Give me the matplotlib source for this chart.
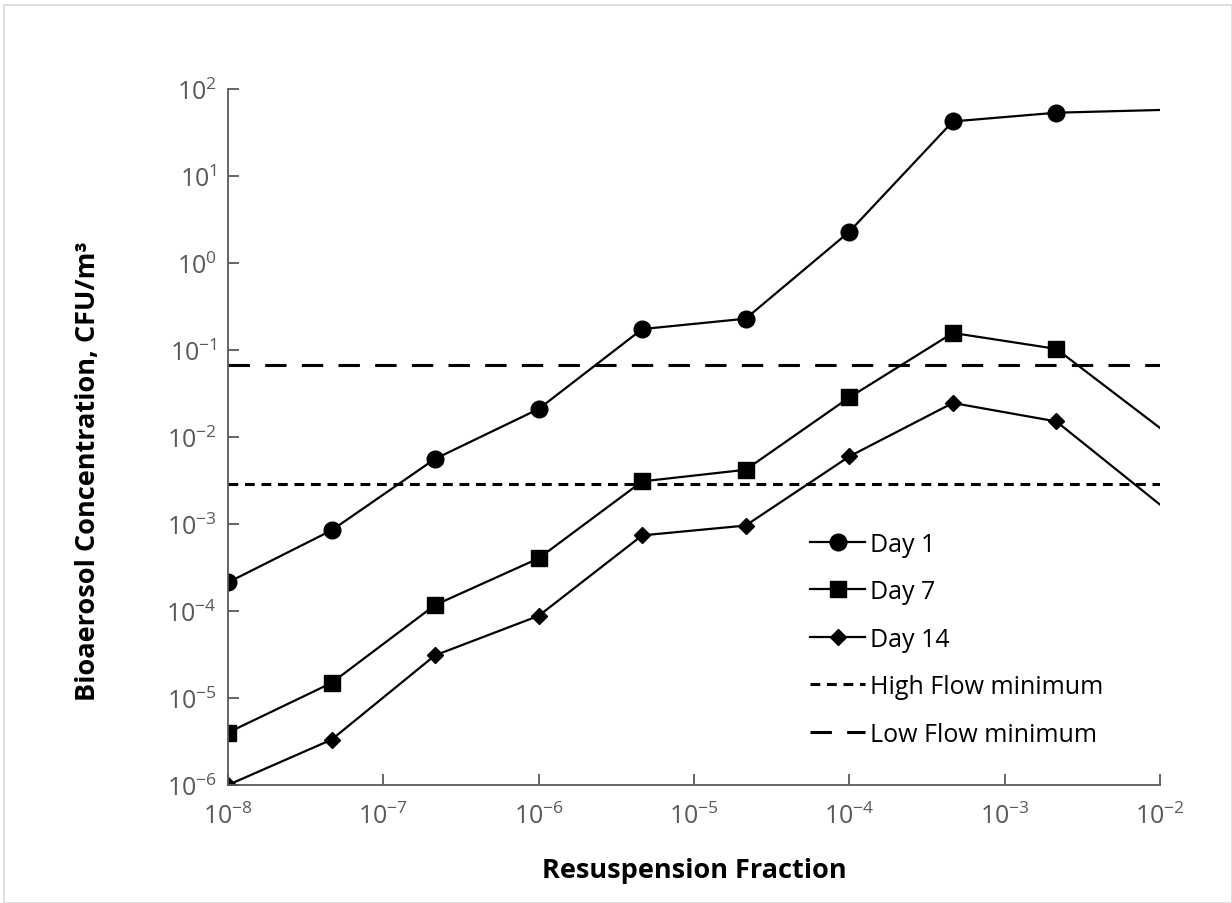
import numpy as np
import matplotlib
matplotlib.use("Agg")
from matplotlib import pyplot as plt
from matplotlib.patches import Rectangle

plt.rcParams['font.family'] = ['Open Sans', 'DejaVu Sans']
plt.rcParams['mathtext.fontset'] = 'custom'
plt.rcParams['mathtext.rm'] = 'Open Sans'
plt.rcParams['mathtext.default'] = 'regular'

# resuspension fraction (x) and concentrations (CFU/m3)
fraction = [1e-8, 4.64e-8, 2.15e-7, 1e-6, 4.64e-6, 2.15e-5, 1e-4, 4.64e-4, 2.15e-3, 1e-2]
day1 = [2.13e-4, 8.45e-4, 5.6e-3, 2.1e-2, 0.174, 0.229, 2.29, 42.4, 53.4, 57.4]
day7 = [4.0e-6, 1.49e-5, 1.17e-4, 4.03e-4, 3.09e-3, 4.2e-3, 2.85e-2, 0.157, 0.103, 1.27e-2]
day14 = [1.0e-6, 3.32e-6, 3.09e-5, 8.8e-5, 7.4e-4, 9.6e-4, 5.98e-3, 2.46e-2, 1.51e-2, 1.67e-3]
high_flow_min = 2.9e-3
low_flow_min = 0.068

fig = plt.figure(figsize=(12.32, 9.04), dpi=100)
ax = fig.add_axes([228 / 1232, 1 - 786 / 904, (1160 - 228) / 1232, (786 - 90) / 904])

# light border round the whole picture
fig.patches.append(Rectangle((4 / 1232, 0), 1 - 4 / 1232, 1 - 6 / 904,
                             transform=fig.transFigure, fill=False,
                             edgecolor='#d9d9d9', linewidth=1.2))

marks = list(range(len(fraction) - 1))  # last point sits on the edge, no marker
ax.plot(fraction, day1, color='black', lw=1.6, marker='o', ms=12,
        markevery=marks, label='Day 1')
ax.plot(fraction, day7, color='black', lw=1.6, marker='s', ms=11.5,
        markevery=marks, label='Day 7')
ax.plot(fraction, day14, color='black', lw=1.6, marker='D', ms=8.5,
        markevery=marks, label='Day 14')
ax.axhline(high_flow_min, color='black', lw=2.2, ls=(0, (3.2, 2.2)),
           label='High Flow minimum')
ax.axhline(low_flow_min, color='black', lw=2.2, ls=(0, (7, 5)),
           label='Low Flow minimum')

ax.set_xscale('log')
ax.set_yscale('log')
ax.set_xlim(1e-8, 1e-2)
ax.set_ylim(1e-6, 1e2)
ax.set_xticks([10.0 ** k for k in range(-8, -1)])
ax.set_yticks([10.0 ** k for k in range(-6, 3)])
ax.minorticks_off()

for side in ['top', 'right']:
    ax.spines[side].set_visible(False)
for side in ['left', 'bottom']:
    ax.spines[side].set_color('#595959')
    ax.spines[side].set_linewidth(1.3)
ax.tick_params(direction='in', length=8, width=1.3, color='#595959',
               labelcolor='#595959', labelsize=18, pad=8)
ax.tick_params(axis='x', pad=13)

ax.set_xlabel('Resuspension Fraction', fontsize=19.5, fontweight='bold', labelpad=20)
ax.set_ylabel('Bioaerosol Concentration, CFU/m³', fontsize=19.5, fontweight='bold')
ax.yaxis.set_label_coords(-0.136, 0.4526)

ax.legend(loc='upper left', bbox_to_anchor=(0.6245, 0.364), frameon=False,
          fontsize=18, handlelength=2.2, handletextpad=0.2, labelspacing=0.9,
          borderaxespad=0, borderpad=0)

fig.savefig('out.png', dpi=100)
